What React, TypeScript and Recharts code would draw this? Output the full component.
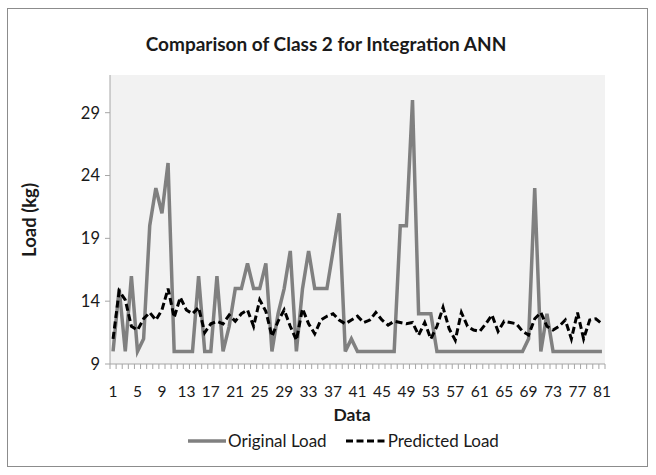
import React from 'react';
import { LineChart, Line, XAxis, YAxis, Legend, CartesianGrid } from 'recharts';

const categories = [
  1, 2, 3, 4, 5, 6, 7, 8, 9, 10, 11, 12, 13, 14, 15, 16, 17, 18, 19, 20,
  21, 22, 23, 24, 25, 26, 27, 28, 29, 30, 31, 32, 33, 34, 35, 36, 37, 38, 39, 40,
  41, 42, 43, 44, 45, 46, 47, 48, 49, 50, 51, 52, 53, 54, 55, 56, 57, 58, 59, 60,
  61, 62, 63, 64, 65, 66, 67, 68, 69, 70, 71, 72, 73, 74, 75, 76, 77, 78, 79, 80, 81,
];

const originalLoad = [
  10, 15, 10, 16, 10, 11, 20, 23, 21, 25,
  10, 10, 10, 10, 16, 10, 10, 16, 10, 12,
  15, 15, 17, 15, 15, 17, 10, 13, 15, 18,
  10, 15, 18, 15, 15, 15, 18, 21, 10, 11,
  10, 10, 10, 10, 10, 10, 10, 20, 20, 30,
  13, 13, 13, 10, 10, 10, 10, 10, 10, 10,
  10, 10, 10, 10, 10, 10, 10, 10, 11, 23,
  10, 13, 10, 10, 10, 10, 10, 10, 10, 10, 10,
];

const predictedLoad = [
  11.0, 14.8, 14.1, 12.0, 11.7, 12.6, 13.1, 12.5, 13.3, 15.0,
  12.7, 14.3, 13.3, 13.0, 13.5, 11.5, 12.2, 12.4, 12.2, 12.9,
  12.4, 13.0, 13.3, 12.0, 14.1, 13.2, 11.2, 12.4, 13.3, 12.0,
  10.9, 13.4, 12.2, 11.4, 12.5, 12.8, 13.0, 12.5, 12.2, 12.5,
  12.8, 12.3, 12.5, 13.1, 12.5, 12.1, 12.4, 12.3, 12.2, 12.3,
  11.3, 12.3, 11.0, 12.0, 13.5, 11.8, 10.9, 13.1, 12.0, 11.7,
  11.6, 12.2, 12.9, 11.6, 12.4, 12.3, 12.2, 11.6, 11.3, 12.6,
  13.1, 12.0, 11.7, 12.0, 12.5, 11.0, 13.1, 11.0, 12.5, 12.6, 12.2,
];

const xTickLabels = [1, 5, 9, 13, 17, 21, 25, 29, 33, 37, 41, 45, 49, 53, 57, 61, 65, 69, 73, 77, 81];
const yTicks = [9, 14, 19, 24, 29];
const yDomain = [9, 32];
const seriesNames = ['Original Load', 'Predicted Load'];

const data = categories.map((c, i) => ({
  x: c,
  original: originalLoad[i],
  predicted: predictedLoad[i],
}));

const boundaryTicks = [0.5, ...categories.map((c) => c + 0.5)];
const allXTicks = [...boundaryTicks, ...xTickLabels].sort((a, b) => a - b);

const FONT = 'Lato, "Open Sans", "Liberation Sans", sans-serif';
const AXIS_COLOR = '#a6a6a6';
const TEXT_COLOR = '#1a1a1a';

const XTick = (props: any) => {
  const { x, y, payload } = props;
  const v = payload.value;
  if (v % 1 !== 0) {
    return <line x1={x} y1={y} x2={x} y2={y + 5} stroke={AXIS_COLOR} strokeWidth={1} />;
  }
  if (xTickLabels.includes(v)) {
    return (
      <text x={x} y={y + 33} textAnchor="middle" fontSize={15.5} fontFamily={FONT} fill={TEXT_COLOR}>
        {v}
      </text>
    );
  }
  return null;
};

const LegendContent = () => (
  <div
    style={{
      display: 'flex',
      alignItems: 'center',
      justifyContent: 'flex-start',
      paddingLeft: 188,
      fontFamily: FONT,
      fontSize: 17,
      color: TEXT_COLOR,
      lineHeight: '18px',
      height: 18,
    }}
  >
    <svg width={38} height={10} style={{ display: 'block' }}>
      <line x1={0} y1={5} x2={38} y2={5} stroke="#808080" strokeWidth={3.5} />
    </svg>
    <span style={{ marginLeft: 2 }}>{seriesNames[0]}</span>
    <svg width={40} height={10} style={{ display: 'block', marginLeft: 19 }}>
      <line x1={0} y1={5} x2={40} y2={5} stroke="#000" strokeWidth={3} strokeDasharray="7 3.5" />
    </svg>
    <span style={{ marginLeft: 2 }}>{seriesNames[1]}</span>
  </div>
);

export default function App() {
  return (
    <div style={{ position: 'absolute', left: 0, top: 0, width: 656, height: 475, background: '#fff' }}>
      <div
        style={{
          position: 'absolute',
          left: 7,
          top: 8,
          width: 641,
          height: 459,
          border: '1px solid #8c8c8c',
          boxSizing: 'border-box',
        }}
      />
      <div style={{ position: 'absolute', left: 0, top: 0 }}>
        <LineChart
          width={656}
          height={475}
          data={data}
          margin={{ top: 75, right: 51, bottom: 63, left: 50 }}
        >
          <CartesianGrid fill="#f2f2f2" horizontal={false} vertical={false} />
          <XAxis
            dataKey="x"
            type="number"
            domain={[0.5, 81.5]}
            ticks={allXTicks}
            interval={0}
            tick={<XTick />}
            tickLine={false}
            tickSize={0}
            tickMargin={0}
            axisLine={{ stroke: AXIS_COLOR }}
            height={30}
            allowDecimals
          />
          <YAxis
            domain={yDomain}
            ticks={yTicks}
            interval={0}
            width={60}
            tickSize={5}
            tickMargin={5}
            tickLine={{ stroke: AXIS_COLOR }}
            axisLine={{ stroke: AXIS_COLOR }}
            tick={{ fontSize: 16.5, fontFamily: FONT, fill: TEXT_COLOR }}
            allowDataOverflow
          />
          <Legend
            content={<LegendContent />}
            wrapperStyle={{ position: 'absolute', top: 432, left: 0, width: 656, height: 18 }}
          />
          <Line
            type="linear"
            dataKey="original"
            name={seriesNames[0]}
            stroke="#808080"
            strokeWidth={3.5}
            dot={false}
            activeDot={false}
            isAnimationActive={false}
          />
          <Line
            type="linear"
            dataKey="predicted"
            name={seriesNames[1]}
            stroke="#000000"
            strokeWidth={3}
            strokeDasharray="7 3.5"
            dot={false}
            activeDot={false}
            isAnimationActive={false}
          />
        </LineChart>
      </div>
      <svg
        width={656}
        height={475}
        style={{ position: 'absolute', left: 0, top: 0, pointerEvents: 'none' }}
      >
        <text x={326} y={51} textAnchor="middle" fontSize={19} fontWeight="bold" fontFamily={FONT} fill={TEXT_COLOR}>
          Comparison of Class 2 for Integration ANN
        </text>
        <text
          x={36}
          y={220}
          textAnchor="middle"
          fontSize={18.5}
          fontWeight="bold"
          fontFamily={FONT}
          fill={TEXT_COLOR}
          transform="rotate(-90 36 220)"
        >
          Load (kg)
        </text>
        <text x={352} y={421} textAnchor="middle" fontSize={17.5} fontWeight="bold" fontFamily={FONT} fill={TEXT_COLOR}>
          Data
        </text>
      </svg>
    </div>
  );
}
